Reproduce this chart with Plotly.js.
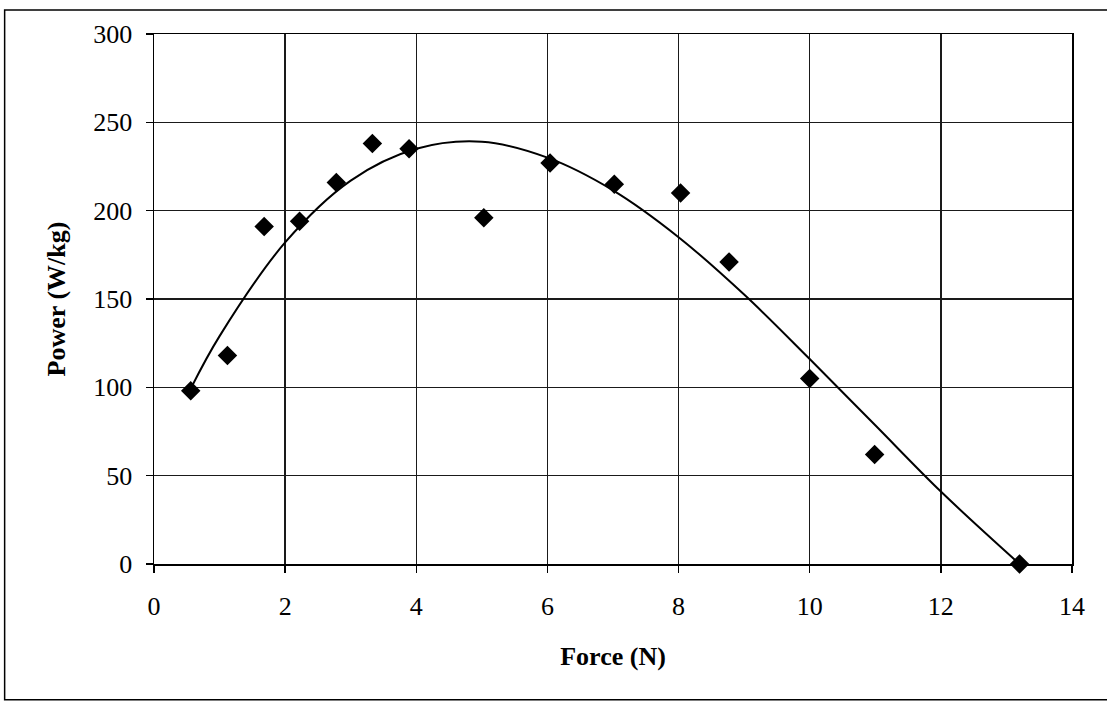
<!DOCTYPE html>
<html>
<head>
<meta charset="utf-8">
<script src="https://cdn.plot.ly/plotly-3.0.1.min.js"></script>
<style>
  html, body { margin: 0; padding: 0; background: #ffffff; }
  #chart { width: 1107px; height: 702px; }
</style>
</head>
<body>
<div id="chart"></div>
<script>
// Measured force and specific power
const force = [0.56, 1.12, 1.68, 2.22, 2.78, 3.33, 3.89, 5.03, 6.04, 7.02, 8.03, 8.77, 10.0, 10.99, 13.2];
const power = [98, 118, 191, 194, 216, 238, 235, 196, 227, 215, 210, 171, 105, 62, 0];

// Polynomial trendline, sampled across the measured range
const trendForce = [0.57, 1, 2, 3, 4, 5, 6, 7, 8, 9, 10, 11, 12, 13.2];
const trendPower = [100, 129, 182, 217, 235, 239, 230, 211.5, 185, 152.5, 116, 78.5, 41, 0];

// Axis ticks
const xTicks = [0, 2, 4, 6, 8, 10, 12, 14];
const yTicks = [0, 50, 100, 150, 200, 250, 300];

const fontFamily = '"Liberation Serif", "DejaVu Serif", serif';

const traces = [
  {
    x: trendForce, y: trendPower, type: 'scatter', mode: 'lines',
    line: { color: '#000000', width: 2, shape: 'spline', smoothing: 1 },
    cliponaxis: false, hoverinfo: 'skip', showlegend: false
  },
  {
    x: force, y: power, type: 'scatter', mode: 'markers',
    marker: { symbol: 'diamond', size: 15, color: '#000000' },
    cliponaxis: false, showlegend: false
  }
];

const axisCommon = {
  showgrid: true, gridcolor: '#1a1a1a', gridwidth: 1.5,
  showline: true, linecolor: '#000000', linewidth: 1.5, mirror: true,
  zeroline: false,
  ticks: 'outside', ticklen: 7, tickwidth: 1.5, tickcolor: '#000000',
  tickfont: { family: fontFamily, size: 26, color: '#000000' }
};

const layout = {
  width: 1107, height: 702,
  margin: { l: 154, r: 35, t: 34, b: 138 },
  paper_bgcolor: '#ffffff', plot_bgcolor: '#ffffff',
  showlegend: false,
  xaxis: Object.assign({}, axisCommon, {
    range: [0, 14], tickvals: xTicks, ticktext: xTicks.map(String),
    ticklabelstandoff: 11,
    title: { text: '<b>Force (N)</b>', font: { family: fontFamily, size: 26, color: '#000000' }, standoff: 27 }
  }),
  yaxis: Object.assign({}, axisCommon, {
    range: [0, 300], tickvals: yTicks, ticktext: yTicks.map(String),
    ticklabelstandoff: 8,
    title: { text: '<b>Power (W/kg)</b>', font: { family: fontFamily, size: 26, color: '#000000' }, standoff: 20 }
  }),
  shapes: [
    {
      type: 'rect', xref: 'paper', yref: 'paper',
      x0: -0.1627, x1: 1.06, y0: -0.256, y1: 1.0453,
      line: { color: '#000000', width: 1.5 }, fillcolor: 'rgba(0,0,0,0)', layer: 'below'
    }
  ]
};

Plotly.newPlot('chart', traces, layout, { displayModeBar: false, staticPlot: true });
</script>
</body>
</html>
